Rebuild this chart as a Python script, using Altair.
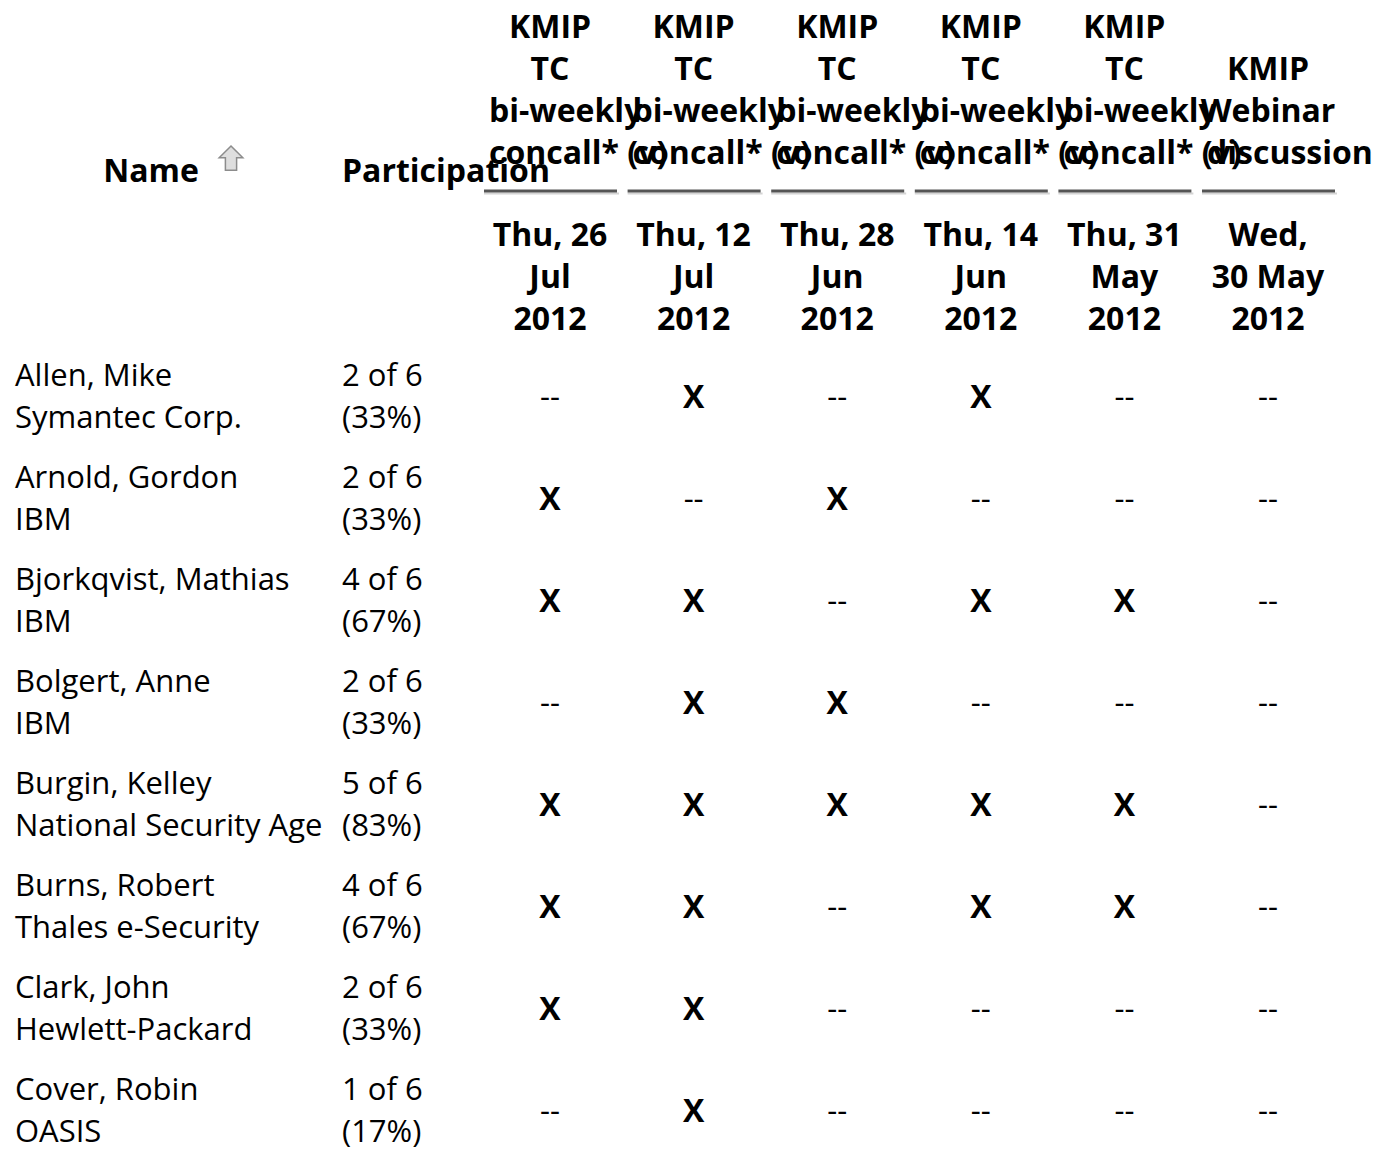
import altair as alt
import pandas as pd

# ---------------- data ----------------
names = ["Allen, Mike", "Arnold, Gordon", "Bjorkqvist, Mathias", "Bolgert, Anne",
         "Burgin, Kelley", "Burns, Robert", "Clark, John", "Cover, Robin"]
orgs = ["Symantec Corp.", "IBM", "IBM", "IBM", "National Security Agency",
        "Thales e-Security", "Hewlett-Packard", "OASIS"]
meeting_titles = [
    ["KMIP", "TC", "bi-weekly", "concall* (v)"],
    ["KMIP", "TC", "bi-weekly", "concall* (v)"],
    ["KMIP", "TC", "bi-weekly", "concall* (v)"],
    ["KMIP", "TC", "bi-weekly", "concall* (v)"],
    ["KMIP", "TC", "bi-weekly", "concall* (v)"],
    ["KMIP", "Webinar", "discussion"],
]
meeting_dates = [
    ["Thu, 26", "Jul", "2012"],
    ["Thu, 12", "Jul", "2012"],
    ["Thu, 28", "Jun", "2012"],
    ["Thu, 14", "Jun", "2012"],
    ["Thu, 31", "May", "2012"],
    ["Wed,", "30 May", "2012"],
]
# 1 = attended (X), 0 = absent (--)
attendance = [
    [0, 1, 0, 1, 0, 0],
    [1, 0, 1, 0, 0, 0],
    [1, 1, 0, 1, 1, 0],
    [0, 1, 1, 0, 0, 0],
    [1, 1, 1, 1, 1, 0],
    [1, 1, 0, 1, 1, 0],
    [1, 1, 0, 0, 0, 0],
    [0, 1, 0, 0, 0, 0],
]
header_name = "Name"
header_part = "Participation"

# ---------------- layout (chart coordinates) ----------------
W, H = 1377, 1141
OFF = 8
COL0, PITCH = 550 - OFF, 143.6
CELL_HALF = 61
NAME_X, PART_X = 15 - OFF, 342 - OFF
TITLE_Y0, TITLE_DY = 25 - OFF, 42.4
DATE_Y0, DATE_DY = 235 - OFF, 42.5
HEAD_Y = 170 - OFF
ULINE_Y = 193 - OFF
ROW_Y0, ROW_DY, LINE_DY = 377 - OFF, 103.1, 43

FONT = "Open Sans"
FS = 31
FS_B = 32
DY = 3.5

hc, hl, body, xs, dashes, ul = [], [], [], [], [], []
n_lines = max(len(t) for t in meeting_titles)
for i, (title, date) in enumerate(zip(meeting_titles, meeting_dates)):
    cx = COL0 + i * PITCH
    start = n_lines - len(title)
    for k, line in enumerate(title):
        y = TITLE_Y0 + (start + k) * TITLE_DY
        if len(line) > 8:
            hl.append({"x": cx - CELL_HALF, "y": y, "text": line})
        else:
            hc.append({"x": cx, "y": y, "text": line})
    for k, line in enumerate(date):
        hc.append({"x": cx, "y": DATE_Y0 + k * DATE_DY, "text": line})
    ul.append({"x": cx - 66, "x2": cx + 67, "y": ULINE_Y})

hc.append({"x": 151 - OFF, "y": HEAD_Y, "text": header_name})
hl.append({"x": PART_X, "y": HEAD_Y, "text": header_part})

for r, (nm, org, att) in enumerate(zip(names, orgs, attendance)):
    y1 = ROW_Y0 + r * ROW_DY
    n = sum(att)
    body.append({"x": NAME_X, "y": y1, "text": nm})
    body.append({"x": NAME_X, "y": y1 + LINE_DY, "text": org})
    body.append({"x": PART_X, "y": y1, "text": f"{n} of {len(att)}"})
    body.append({"x": PART_X, "y": y1 + LINE_DY, "text": f"({round(100 * n / len(att))}%)"})
    for i, a in enumerate(att):
        rec = {"x": COL0 + i * PITCH, "y": y1 + LINE_DY / 2, "text": "X" if a else "--"}
        (xs if a else dashes).append(rec)

xsc = alt.Scale(domain=[0, W], nice=False, zero=False)
ysc = alt.Scale(domain=[0, H], nice=False, zero=False, reverse=True)
X = alt.X("x:Q", scale=xsc, axis=None)
Y = alt.Y("y:Q", scale=ysc, axis=None)
T = alt.Text("text:N")


def txt(rows, align, weight="normal", limit=0):
    kw = dict(align=align, baseline="middle", font=FONT, dy=DY,
              fontSize=FS_B if weight == "bold" else FS,
              fontWeight=weight, color="black")
    if limit:
        kw.update(limit=limit, ellipsis="\u200b")
    return alt.Chart(pd.DataFrame(rows)).mark_text(**kw).encode(x=X, y=Y, text=T)


uldf = pd.DataFrame(ul)
ul_light = alt.Chart(uldf).mark_rule(color="#d4d4d4", strokeWidth=2).encode(
    x=X, x2=alt.X2("x2"), y=alt.Y("y2:Q", scale=ysc, axis=None)
).transform_calculate(y2="datum.y + 2.5", x2="datum.x2 + 2")
ul_dark = alt.Chart(uldf).mark_rule(color="#555555", strokeWidth=3).encode(
    x=X, x2=alt.X2("x2"), y=Y
)

arrow_path = "M0,-1 L0.95,-0.05 L0.45,-0.05 L0.45,0.95 L-0.45,0.95 L-0.45,-0.05 L-0.95,-0.05 Z"
arrow = alt.Chart(pd.DataFrame([{"x": 231 - OFF, "y": 160 - OFF}])).mark_point(
    shape=arrow_path, size=620, filled=True, fill="#dedede", stroke="#8c8c8c",
    strokeWidth=1.5, opacity=1
).encode(x=X, y=Y)

chart = alt.layer(
    ul_light, ul_dark, arrow,
    txt(hc, "center", "bold"),
    txt(hl, "left", "bold"),
    txt(body, "left", limit=318),
    txt(xs, "center", "bold"),
    txt(dashes, "center"),
).properties(
    width=W, height=H,
    autosize=alt.AutoSizeParams(type="fit", contains="padding"),
    padding=0,
).configure_view(stroke=None)

chart.save("out.html", embed_options={"renderer": "svg", "actions": False})
